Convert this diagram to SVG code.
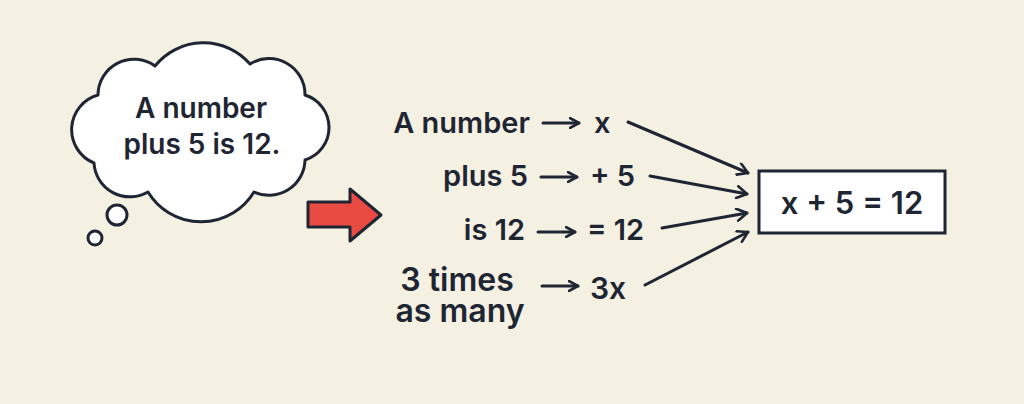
<svg xmlns="http://www.w3.org/2000/svg" width="1024" height="404" viewBox="0 0 1024 404">
<defs>
<style>
.t{font-family:Inter,"Liberation Sans",sans-serif;font-weight:600;fill:#1e2533}
.ln{fill:none;stroke:#1e2533;stroke-width:3;stroke-linecap:round;stroke-linejoin:round}
.out{fill:#ffffff;stroke:#1e2533;stroke-width:3;stroke-linejoin:round}
</style>
<marker id="ah" viewBox="0 0 12 12" refX="10" refY="6" markerWidth="12" markerHeight="12" markerUnits="userSpaceOnUse" orient="auto">
<path d="M1,1 L10,6 L1,11" fill="none" stroke="#1e2533" stroke-width="2.6" stroke-linecap="round" stroke-linejoin="round"/>
</marker>
<marker id="ah2" viewBox="0 0 14 14" refX="12" refY="7" markerWidth="14" markerHeight="14" markerUnits="userSpaceOnUse" orient="auto">
<path d="M2,1 L12,7 L2,13" fill="none" stroke="#1e2533" stroke-width="2.6" stroke-linecap="round" stroke-linejoin="round"/>
</marker>
</defs>
<rect width="1024" height="404" fill="#f5f1e2"/>
<g id="thought">
<path class="out" d="M94,163 A36,36 0 0 1 98,95 A36,36 0 0 1 155,66 A62,62 0 0 1 250,64 A36,36 0 0 1 305,95 A34,34 0 0 1 305,160 A36,36 0 0 1 254,192 A62,62 0 0 1 148,192 A36,36 0 0 1 94,163 Z"/>
<circle class="out" cx="117" cy="215" r="10"/>
<circle class="out" cx="95" cy="238" r="7"/>
<text class="t" font-size="28" text-anchor="middle"><tspan x="201" y="118">A number</tspan><tspan x="202" y="154">plus 5 is 12.</tspan></text>
</g>
<g id="bigarrow">
<polygon points="308,202 350,202 350,189 381,215 350,241 350,227 308,227" fill="#e94b43" stroke="#1e2533" stroke-width="3" stroke-linejoin="round"/>
</g>
<g id="row1">
<text class="t" x="530" y="133" font-size="29" text-anchor="end">A number</text>
<text class="t" x="594" y="133" font-size="29">x</text>
</g>
<g id="row2">
<text class="t" x="528" y="186" font-size="29" text-anchor="end">plus 5</text>
<text class="t" x="590" y="186" font-size="29">+ 5</text>
</g>
<g id="row3">
<text class="t" x="525" y="240" font-size="29" text-anchor="end">is 12</text>
<text class="t" x="587" y="240" font-size="29">= 12</text>
</g>
<g id="row4">
<text class="t" font-size="32" text-anchor="middle"><tspan x="457" y="291">3 times</tspan><tspan x="460" y="322">as many</tspan></text>
<text class="t" x="590" y="299" font-size="30">3x</text>
</g>
<g id="result">
<rect x="759" y="171" width="186" height="62" fill="#ffffff" stroke="#1e2533" stroke-width="3"/>
<text class="t" x="852" y="214" font-size="31" text-anchor="middle">x + 5 = 12</text>
</g>
<g id="connectors">
<line class="ln" x1="543" y1="123" x2="579" y2="123" marker-end="url(#ah)"/>
<line class="ln" x1="541" y1="177" x2="577" y2="177" marker-end="url(#ah)"/>
<line class="ln" x1="538" y1="232" x2="575" y2="232" marker-end="url(#ah)"/>
<line class="ln" x1="542" y1="286" x2="578" y2="286" marker-end="url(#ah)"/>
<line class="ln" x1="628" y1="122" x2="748" y2="173" marker-end="url(#ah2)"/>
<line class="ln" x1="650" y1="176" x2="747" y2="194" marker-end="url(#ah2)"/>
<line class="ln" x1="662" y1="228" x2="747" y2="213" marker-end="url(#ah2)"/>
<line class="ln" x1="645" y1="285" x2="748" y2="232" marker-end="url(#ah2)"/>
</g>
</svg>
